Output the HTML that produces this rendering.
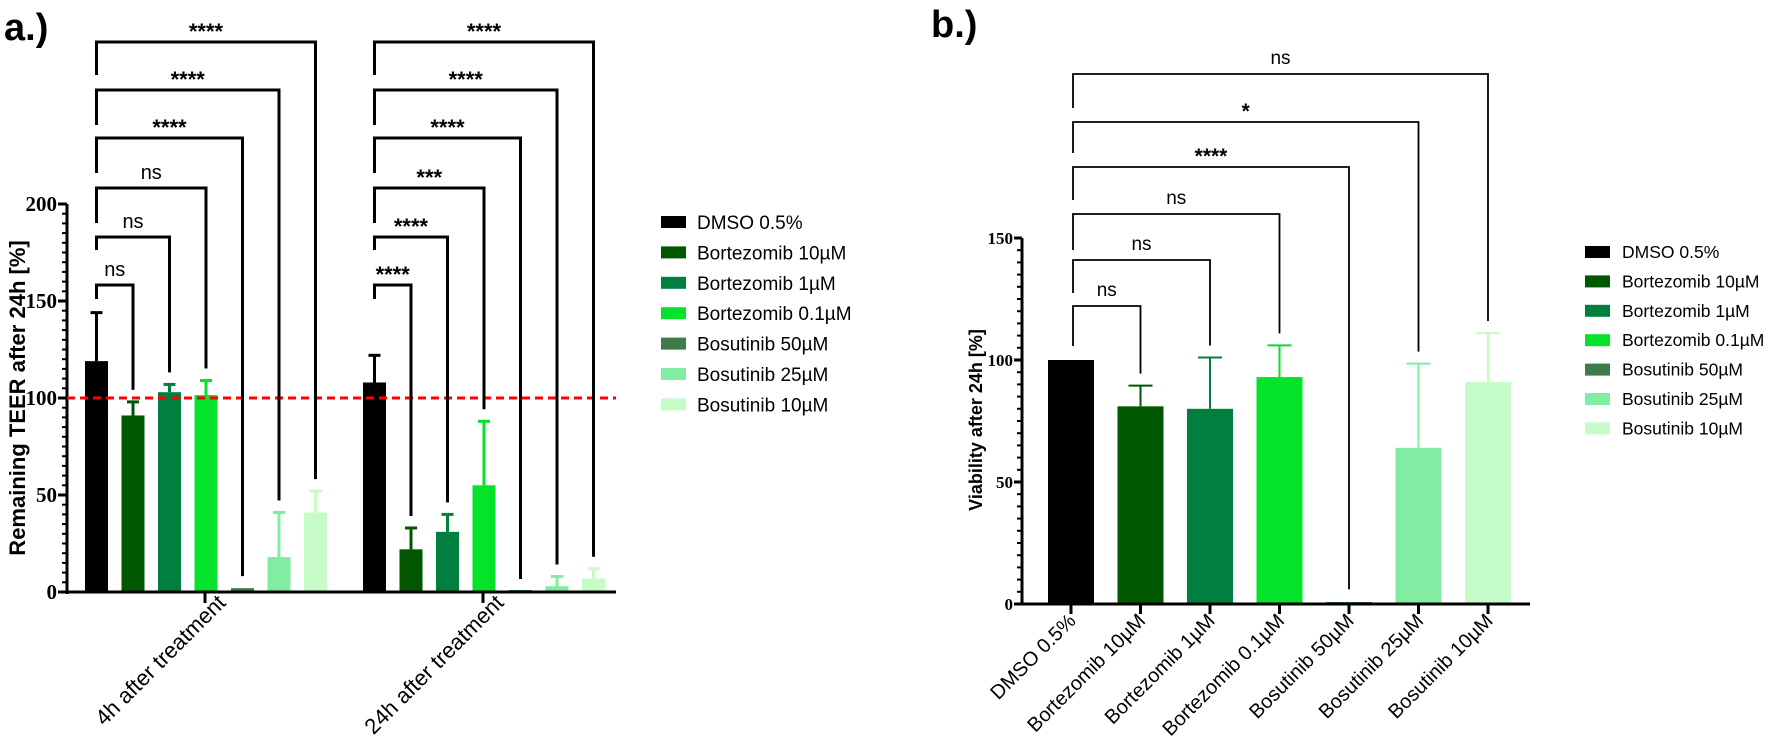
<!DOCTYPE html>
<html><head><meta charset="utf-8">
<style>
html,body{margin:0;padding:0;background:#fff;}
svg{display:block;font-family:"Liberation Sans",Arial,sans-serif;}
</style></head>
<body>
<svg id="chart" width="1772" height="743" viewBox="0 0 1772 743" xmlns="http://www.w3.org/2000/svg"></svg>
<script>
// ---------- data ----------
const seriesNames = ["DMSO 0.5%","Bortezomib 10µM","Bortezomib 1µM","Bortezomib 0.1µM","Bosutinib 50µM","Bosutinib 25µM","Bosutinib 10µM"];
const seriesColors = ["#000000","#005700","#007f3f","#05e22a","#3f7a4a","#80eda2","#c6fcc8"];
const groupsA = ["4h after treatment","24h after treatment"];
const meansA4h = [119, 91, 103, 101.5, 2, 18, 41];
const errA4h = [25, 7, 4, 7.5, 0, 23, 11];
const meansA24h = [108, 22, 31, 55, 0.5, 3, 7];
const errA24h = [14, 11, 9, 33, 0, 5, 5];
const sigA4h = ["ns","ns","ns","****","****","****"];
const sigA24h = ["****","****","***","****","****","****"];
const ticksA = [0, 50, 100, 150, 200];
const refLineA = 100;
const categoriesB = ["DMSO 0.5%","Bortezomib 10µM","Bortezomib 1µM","Bortezomib 0.1µM","Bosutinib 50µM","Bosutinib 25µM","Bosutinib 10µM"];
const meansB = [100, 81, 80, 93, 0.5, 64, 91];
const errB = [0, 8.5, 21, 13, 0, 34.5, 20];
const sigB = ["ns","ns","ns","****","*","ns"];
const ticksB = [0, 50, 100, 150];

const NS = "http://www.w3.org/2000/svg";
const svg = document.getElementById("chart");
function mk(tag, attrs, parent){
  const e = document.createElementNS(NS, tag);
  for (const k in attrs) e.setAttribute(k, attrs[k]);
  (parent||svg).appendChild(e);
  return e;
}

// ---------- Panel A ----------
const gA = mk("g",{});


const yA = v => 592 - v*1.94;
const axA = {x0:67, x1:616};
const groupStartA = [85, 363];
const pitchA = 36.5, bwA = 23;
const barXA = (g,i) => groupStartA[g] + i*pitchA;

let t = mk("text",{x:4,y:40,"font-size":38,"font-weight":"bold"},gA); t.textContent="a.)";



let ax = mk("line",{x1:axA.x0,y1:yA(0)+2,x2:axA.x0,y2:yA(200),stroke:"#000","stroke-width":3},gA);


for (let v=0; v<=200; v+=5){
  const major = ticksA.includes(v);
  mk("line",{x1:axA.x0-(major?9:5),y1:yA(v),x2:axA.x0,y2:yA(v),stroke:"#000","stroke-width":major?3:2},gA);
}
ticksA.forEach(v=>{
  const tl = mk("text",{x:axA.x0-10,y:yA(v)+7,"text-anchor":"end","font-size":21,"font-weight":"bold","font-family":"Liberation Serif, serif"},gA);
  tl.textContent = v;
  
  
});
let yt = mk("text",{transform:`translate(25,${yA(100)}) rotate(-90)`,"text-anchor":"middle","font-size":22,"font-weight":"bold"},gA);
yt.textContent = "Remaining  TEER after 24h [%]";



[meansA4h, meansA24h].forEach((means,g)=>{
  const errs = g===0?errA4h:errA24h;
  means.forEach((m,i)=>{
    const x = barXA(g,i), c = seriesColors[i];
    const cx = x + bwA/2;
    if (errs[i]>0){
      const e = mk("line",{x1:cx,y1:yA(m),x2:cx,y2:yA(m+errs[i]),stroke:c,"stroke-width":3},gA);
      
      
      mk("line",{x1:cx-6,y1:yA(m+errs[i]),x2:cx+6,y2:yA(m+errs[i]),stroke:c,"stroke-width":3},gA);
    }
    const h = Math.max(yA(0)-yA(m),2);
    const r = mk("rect",{x:x,y:yA(0)-h,width:bwA,height:h,fill:c},gA);
    
    
  });
});
let rl = mk("line",{x1:axA.x0,y1:yA(refLineA),x2:axA.x1,y2:yA(refLineA),stroke:"#ff0000","stroke-width":3,"stroke-dasharray":"8,5"},gA);


let xa = mk("line",{x1:axA.x0-1,y1:yA(0),x2:axA.x1,y2:yA(0),stroke:"#000","stroke-width":3},gA);


groupsA.forEach((name,g)=>{
  const cx = barXA(g,3)+bwA/2-1;
  mk("line",{x1:cx,y1:yA(0),x2:cx,y2:yA(0)+11,stroke:"#000","stroke-width":3},gA);
  const l = mk("text",{transform:`translate(${cx+22},${yA(0)+12}) rotate(-45)`,"text-anchor":"end","font-size":22},gA);
  l.textContent = name;
  
  
});
const bracketTopsA = [285, 237, 188, 138, 90, 42];
const leftLegA = [14, 13, 35, 35, 35, 33];
[sigA4h, sigA24h].forEach((sigs,g)=>{
  const means = g===0?meansA4h:meansA24h, errs = g===0?errA4h:errA24h;
  const lx = barXA(g,0)+bwA/2;
  sigs.forEach((s,k)=>{
    const i = k+1, rx = barXA(g,i)+bwA/2, top = bracketTopsA[k];
    const end = yA(means[i]+errs[i]) - 12;
    const p = mk("path",{d:`M${lx},${top+leftLegA[k]} V${top} H${rx} V${end}`,fill:"none",stroke:"#000","stroke-width":3},gA);
    
    
    const st = mk("text",{x:(lx+rx)/2,y:top-(s==="ns"?9:3),"text-anchor":"middle","font-size":s==="ns"?20:22,"font-weight":s==="ns"?"normal":"bold"},gA);
    st.textContent = s;
    
    
  });
});
seriesNames.forEach((n,i)=>{
  const y = 222 + i*30.4;
  const sw = mk("rect",{x:661,y:y-6,width:25,height:12,fill:seriesColors[i]},gA);
  
  
  const lt = mk("text",{x:697,y:y+7,"font-size":19},gA);
  lt.textContent = n;
  
  
});

// ---------- Panel B ----------
const gB = mk("g",{});


const yB = v => 604 - v*2.44;
const axB = {x0:1022, x1:1530};
const barCB = i => 1071 + i*69.5;
const bwB = 46;

t = mk("text",{x:931,y:37,"font-size":38,"font-weight":"bold"},gB); t.textContent="b.)";



ax = mk("line",{x1:axB.x0,y1:yB(0)+1,x2:axB.x0,y2:yB(150),stroke:"#000","stroke-width":3},gB);


for (let v=0; v<=150; v+=5){
  const major = ticksB.includes(v);
  mk("line",{x1:axB.x0-(major?8:5),y1:yB(v),x2:axB.x0,y2:yB(v),stroke:"#000","stroke-width":major?3:2},gB);
}
ticksB.forEach(v=>{
  const tl = mk("text",{x:axB.x0-9,y:yB(v)+6,"text-anchor":"end","font-size":17,"font-weight":"bold","font-family":"Liberation Serif, serif"},gB);
  tl.textContent = v;
  
  
});
yt = mk("text",{transform:`translate(982,420) rotate(-90)`,"text-anchor":"middle","font-size":18,"font-weight":"bold"},gB);
yt.textContent = "Viability after 24h [%]";



meansB.forEach((m,i)=>{
  const cx = barCB(i), c = seriesColors[i];
  if (errB[i]>0){
    const e = mk("line",{x1:cx,y1:yB(m),x2:cx,y2:yB(m+errB[i]),stroke:c,"stroke-width":2},gB);
    
    
    mk("line",{x1:cx-12,y1:yB(m+errB[i]),x2:cx+12,y2:yB(m+errB[i]),stroke:c,"stroke-width":2},gB);
  }
  const h = Math.max(yB(0)-yB(m),2);
  const r = mk("rect",{x:cx-bwB/2,y:yB(0)-h,width:bwB,height:h,fill:c},gB);
  
  
});
xa = mk("line",{x1:axB.x0-1,y1:yB(0),x2:axB.x1,y2:yB(0),stroke:"#000","stroke-width":3},gB);


categoriesB.forEach((n,i)=>{
  const cx = barCB(i);
  mk("line",{x1:cx,y1:yB(0),x2:cx,y2:yB(0)+10,stroke:"#000","stroke-width":3},gB);
  const l = mk("text",{transform:`translate(${cx+6},${yB(0)+18}) rotate(-45)`,"text-anchor":"end","font-size":20},gB);
  l.textContent = n;
  
  
});
const bracketTopsB = [306, 260, 214, 167, 122, 74];
const leftLegB = [40, 33, 36, 33, 31, 34];
sigB.forEach((s,k)=>{
  const i = k+1, lx = barCB(0)+2, rx = barCB(i), top = bracketTopsB[k];
  const end = i===4 ? yB(6) : yB(meansB[i]+errB[i]) - 12;
  const p = mk("path",{d:`M${lx},${top+leftLegB[k]} V${top} H${rx} V${end}`,fill:"none",stroke:"#000","stroke-width":1.8},gB);
  
  
  const st = mk("text",{x:(lx+rx)/2,y:top-(s==="ns"?10:4),"text-anchor":"middle","font-size":s==="ns"?19:21,"font-weight":s==="ns"?"normal":"bold"},gB);
  st.textContent = s;
  
  
});
seriesNames.forEach((n,i)=>{
  const y = 252 + i*29.4;
  const sw = mk("rect",{x:1585,y:y-6,width:25,height:12,fill:seriesColors[i]},gB);
  
  
  const lt = mk("text",{x:1622,y:y+6,"font-size":17.5},gB);
  lt.textContent = n;
  
  
});
</script>
</body></html>
